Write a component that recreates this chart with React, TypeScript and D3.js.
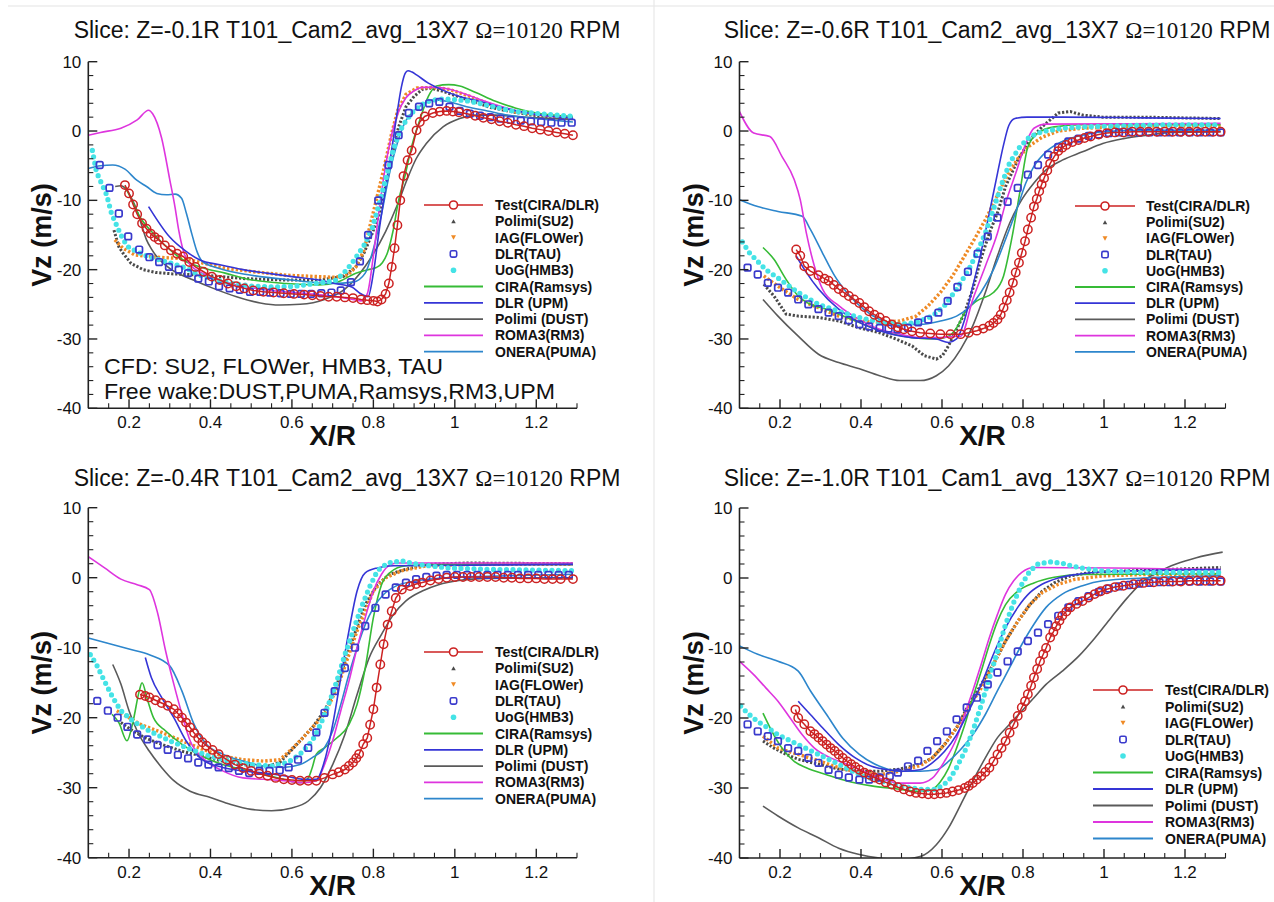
import React from 'react';
import * as d3 from 'd3';

type Pt = [number, number];

const X_TICKS = [0.2, 0.4, 0.6, 0.8, 1, 1.2];
const X_TICK_LABELS = ['0.2', '0.4', '0.6', '0.8', '1', '1.2'];
const Y_TICKS = [10, 0, -10, -20, -30, -40];
const SERIES_NAMES = ['Test(CIRA/DLR)', 'Polimi(SU2)', 'IAG(FLOWer)', 'DLR(TAU)', 'UoG(HMB3)', 'CIRA(Ramsys)', 'DLR (UPM)', 'Polimi (DUST)', 'ROMA3(RM3)', 'ONERA(PUMA)'];
const SLICES = ['Z=-0.1R T101_Cam2_avg_13X7 ', 'Z=-0.6R T101_Cam2_avg_13X7 ', 'Z=-0.4R T101_Cam2_avg_13X7 ', 'Z=-1.0R T101_Cam1_avg_13X7 '];
const NOTE_LINES = ['CFD: SU2, FLOWer, HMB3, TAU', 'Free wake:DUST,PUMA,Ramsys,RM3,UPM'];

// ---------- Panel 1 : Z=-0.1R ----------
const p1Test: Pt[] = [[0.19,-7.8],[0.2,-9],[0.21,-10.6],[0.22,-12],[0.232,-13.3],[0.243,-14.1],[0.253,-14.8],[0.263,-15.3],[0.273,-15.7],[0.288,-16.5],[0.303,-17.2],[0.318,-17.7],[0.333,-18.1],[0.348,-18.9],[0.363,-19.6],[0.383,-20.3],[0.403,-21],[0.423,-21.5],[0.443,-22],[0.463,-22.4],[0.483,-22.7],[0.505,-23],[0.53,-23.2],[0.555,-23.3],[0.58,-23.4],[0.605,-23.5],[0.63,-23.6],[0.65,-23.7],[0.67,-23.8],[0.69,-23.9],[0.71,-23.9],[0.73,-24],[0.75,-24.1],[0.77,-24.3],[0.785,-24.4],[0.8,-24.5],[0.81,-24.6],[0.82,-24.3],[0.83,-23.5],[0.838,-22],[0.845,-19.6],[0.852,-16.9],[0.859,-13.6],[0.866,-10],[0.874,-6.5],[0.884,-4.2],[0.894,-2.8],[0.906,0.1],[0.914,1.3],[0.926,2.1],[0.946,2.6],[0.963,2.8],[0.98,2.9],[0.995,2.8],[1.01,2.7],[1.03,2.5],[1.05,2.2],[1.07,1.9],[1.09,1.7],[1.11,1.4],[1.13,1.2],[1.15,0.9],[1.17,0.7],[1.19,0.4],[1.21,0.2],[1.23,0],[1.25,-0.2],[1.27,-0.4],[1.29,-0.6]];
const p1Su2: Pt[] = [[0.163,-14.3],[0.175,-16.7],[0.185,-17.6],[0.205,-19.1],[0.235,-20],[0.265,-20.4],[0.305,-20.6],[0.385,-20.8],[0.486,-21.3],[0.586,-21.5],[0.666,-21.5],[0.726,-21],[0.757,-19.6],[0.777,-17.6],[0.797,-14.8],[0.812,-12.4],[0.832,-7.5],[0.847,-3.2],[0.862,0.6],[0.88,3.5],[0.9,5],[0.92,6],[0.94,6.2],[0.967,5.8],[1.007,5],[1.047,4.2],[1.088,3.4],[1.138,2.8],[1.188,2.3],[1.29,1.8]];
const p1Iag: Pt[] = [[0.165,-15.7],[0.185,-16.9],[0.215,-17.9],[0.265,-18.2],[0.335,-18.4],[0.385,-19.1],[0.436,-19.8],[0.506,-20.3],[0.586,-20.8],[0.666,-21],[0.706,-21.1],[0.737,-20.8],[0.757,-19.6],[0.777,-17.2],[0.787,-14.8],[0.807,-10],[0.827,-5.1],[0.845,-0.3],[0.86,3],[0.88,5.3],[0.907,6.2],[0.947,6.3],[0.987,6],[1.037,5],[1.088,3.8],[1.148,2.8],[1.29,1.8]];
const p1Tau: Pt[] = [[0.128,-4.9],[0.152,-8.2],[0.175,-11.9],[0.198,-15.2],[0.225,-17.1],[0.25,-18.2],[0.274,-18.9],[0.298,-19.6],[0.322,-20],[0.345,-20.5],[0.37,-21.3],[0.396,-21.7],[0.421,-22.4],[0.447,-22.7],[0.472,-22.9],[0.497,-23.2],[0.522,-23.2],[0.546,-23.3],[0.572,-23.4],[0.597,-23.5],[0.622,-23.5],[0.647,-23.5],[0.672,-23.4],[0.697,-23.3],[0.72,-23],[0.745,-21.8],[0.767,-18.8],[0.787,-15],[0.812,-10],[0.837,-4.9],[0.862,-0.6],[0.887,2.6],[0.912,3.5],[0.937,4],[0.962,4.2],[0.987,3.5],[1.012,2.9],[1.037,2.5],[1.062,2.2],[1.087,2],[1.112,1.8],[1.137,1.6],[1.162,1.5],[1.187,1.4],[1.212,1.3],[1.237,1.2],[1.262,1.2],[1.287,1.2]];
const p1Uog: Pt[] = [[0.11,-2.8],[0.12,-5.9],[0.145,-9.2],[0.157,-11.9],[0.174,-14.2],[0.186,-15.7],[0.198,-16.7],[0.219,-17.4],[0.25,-18.2],[0.3,-19],[0.341,-19.8],[0.374,-20.8],[0.415,-21.5],[0.456,-22],[0.505,-22.4],[0.555,-22.5],[0.606,-22.4],[0.656,-22],[0.706,-21.6],[0.727,-20.5],[0.747,-19.1],[0.777,-16.5],[0.797,-14],[0.812,-11],[0.83,-7],[0.849,-2.7],[0.865,0],[0.878,1.3],[0.9,3],[0.93,4.2],[0.96,4.6],[0.99,4.6],[1.037,4.3],[1.088,3.6],[1.148,2.8],[1.29,2.1]];
const p1Ramsys: Pt[] = [[0.19,-8],[0.203,-9.5],[0.227,-12.4],[0.26,-14.8],[0.292,-16.7],[0.333,-18.6],[0.385,-19.8],[0.436,-20.5],[0.486,-21.3],[0.586,-22],[0.666,-22.2],[0.716,-21.7],[0.757,-20.5],[0.787,-20],[0.807,-19.7],[0.822,-19],[0.835,-17.5],[0.848,-14.5],[0.862,-10],[0.877,-6.6],[0.895,-2],[0.914,1.6],[0.935,5],[0.955,6.5],[0.985,6.7],[1.012,6.5],[1.05,5.6],[1.1,4.3],[1.15,3.3],[1.2,2.6],[1.29,2.1]];
const p1Upm: Pt[] = [[0.248,-10.9],[0.3,-15.3],[0.341,-17.4],[0.374,-18.6],[0.423,-19.3],[0.48,-20],[0.538,-20.5],[0.6,-21],[0.666,-21.5],[0.706,-22],[0.747,-22.5],[0.767,-23.4],[0.787,-23.9],[0.8,-20.5],[0.815,-14],[0.833,-7.1],[0.845,-2.7],[0.857,2.1],[0.869,6.4],[0.878,8.3],[0.885,8.7],[0.895,8.5],[0.906,8.1],[0.935,6.9],[0.97,5.9],[1.01,5],[1.06,4.3],[1.12,3.3],[1.18,2.6],[1.24,2.1],[1.29,1.9]];
const p1Dust: Pt[] = [[0.166,-8],[0.18,-7.9],[0.194,-8.5],[0.207,-9.8],[0.219,-11.4],[0.231,-13.6],[0.243,-15.7],[0.256,-17.1],[0.268,-18.1],[0.3,-19.8],[0.358,-21.5],[0.407,-22.7],[0.464,-23.9],[0.522,-24.8],[0.57,-25.1],[0.62,-25],[0.68,-24.3],[0.73,-22.8],[0.78,-19.5],[0.83,-14.5],[0.86,-10.5],[0.882,-7.1],[0.905,-4],[0.93,-1.8],[0.971,0.6],[1.012,1.8],[1.053,2.3],[1.1,2.3],[1.15,2.1],[1.2,1.9],[1.29,1.7]];
const p1Rm3: Pt[] = [[0.1,-0.6],[0.13,-0.2],[0.18,0.4],[0.22,1.6],[0.248,3],[0.258,2.5],[0.28,-1],[0.3,-7],[0.313,-11],[0.322,-14.3],[0.333,-17.2],[0.35,-19.3],[0.38,-20.5],[0.45,-22],[0.55,-23],[0.65,-23.5],[0.72,-24],[0.75,-24.3],[0.77,-24.5],[0.785,-23.5],[0.8,-18],[0.815,-11],[0.83,-5],[0.845,-0.5],[0.86,2.5],[0.88,4.8],[0.9,5.8],[0.92,6.3],[0.95,6.3],[0.99,6],[1.04,5],[1.1,3.8],[1.16,2.8],[1.22,2.2],[1.29,1.9]];
const p1Puma: Pt[] = [[0.1,-5.4],[0.13,-5],[0.16,-4.9],[0.19,-5.5],[0.219,-7.1],[0.243,-8],[0.268,-9],[0.292,-9.2],[0.313,-9.1],[0.329,-9.7],[0.341,-11.9],[0.354,-14.8],[0.367,-17.4],[0.38,-18.8],[0.42,-19.8],[0.5,-20.8],[0.6,-21.5],[0.7,-22],[0.75,-21.8],[0.78,-20.5],[0.8,-17],[0.82,-12],[0.84,-6],[0.86,-1.5],[0.88,1.5],[0.894,2.6],[0.92,3.8],[0.947,4.5],[0.98,4.3],[1.029,3.5],[1.08,2.9],[1.13,2.3],[1.2,1.8],[1.29,1.3]];

// ---------- Panel 2 : Z=-0.6R ----------
const p2Test: Pt[] = [[0.24,-17.1],[0.25,-18],[0.26,-19.5],[0.275,-20.2],[0.295,-20.8],[0.31,-21.3],[0.32,-21.6],[0.333,-22.2],[0.345,-22.8],[0.358,-23.3],[0.37,-23.8],[0.383,-24.3],[0.396,-24.8],[0.408,-25.4],[0.42,-26],[0.433,-26.5],[0.446,-26.9],[0.461,-27.4],[0.476,-27.9],[0.491,-28.3],[0.506,-28.6],[0.526,-28.9],[0.546,-29.1],[0.571,-29.2],[0.596,-29.3],[0.621,-29.3],[0.646,-29.3],[0.666,-29.1],[0.686,-28.8],[0.702,-28.5],[0.717,-28.1],[0.727,-27.7],[0.737,-27.2],[0.745,-26.5],[0.752,-25.5],[0.76,-24.4],[0.767,-23.3],[0.775,-21.9],[0.782,-20.4],[0.79,-19],[0.797,-17.6],[0.805,-15.9],[0.812,-14.2],[0.82,-12.5],[0.827,-10.9],[0.834,-9.8],[0.84,-8.7],[0.846,-7.7],[0.852,-6.8],[0.86,-5.7],[0.867,-4.7],[0.877,-3.7],[0.887,-2.9],[0.897,-2.4],[0.907,-2],[0.922,-1.6],[0.937,-1.3],[0.952,-1],[0.967,-0.8],[0.987,-0.5],[1.007,-0.3],[1.027,-0.2],[1.048,-0.2],[1.07,-0.1],[1.09,-0.1],[1.11,-0.1],[1.13,-0.1],[1.15,-0.1],[1.17,-0.1],[1.19,-0.1],[1.21,-0.1],[1.23,-0.1],[1.25,-0.1],[1.27,-0.1],[1.288,-0.1]];
const p2Su2: Pt[] = [[0.16,-22.1],[0.185,-23.8],[0.215,-26.4],[0.245,-26.7],[0.295,-26.9],[0.345,-27.4],[0.396,-28.4],[0.446,-29.1],[0.486,-30],[0.526,-31],[0.556,-32.4],[0.586,-32.9],[0.601,-32.4],[0.616,-31],[0.636,-28.6],[0.656,-26.2],[0.676,-22.8],[0.696,-18.5],[0.717,-14.7],[0.737,-11.8],[0.757,-8],[0.787,-4.2],[0.817,-1.3],[0.847,0.6],[0.887,2.6],[0.917,2.8],[0.947,2.3],[0.997,2],[1.098,2],[1.288,1.8]];
const p2Iag: Pt[] = [[0.16,-20.9],[0.195,-22.4],[0.245,-24.3],[0.295,-25.5],[0.345,-26.7],[0.396,-27.4],[0.446,-27.6],[0.496,-27.4],[0.536,-26.7],[0.566,-25.2],[0.596,-23.3],[0.626,-20.9],[0.656,-18],[0.686,-15],[0.707,-12.8],[0.727,-10.5],[0.747,-8],[0.767,-5.8],[0.787,-4],[0.812,-2.3],[0.847,-0.9],[0.887,0],[0.947,0.4],[1.098,0.7],[1.288,0.7]];
const p2Tau: Pt[] = [[0.12,-19.7],[0.145,-20.7],[0.17,-21.9],[0.195,-22.6],[0.22,-23.3],[0.245,-24.3],[0.27,-25],[0.295,-25.7],[0.32,-26.2],[0.345,-26.7],[0.37,-27.3],[0.396,-27.9],[0.42,-28.2],[0.446,-28.4],[0.468,-28.5],[0.49,-28.6],[0.516,-28.4],[0.541,-27.6],[0.566,-27.2],[0.591,-26.2],[0.614,-24.5],[0.638,-22.5],[0.664,-20.3],[0.688,-17.7],[0.713,-15.2],[0.737,-12.5],[0.762,-10.2],[0.787,-8.2],[0.812,-6.3],[0.837,-4.9],[0.862,-3.4],[0.887,-2.3],[0.912,-1.5],[0.937,-1.1],[0.962,-0.7],[0.987,-0.5],[1.012,-0.3],[1.037,-0.2],[1.062,-0.2],[1.087,-0.2],[1.112,-0.2],[1.137,-0.2],[1.162,-0.2],[1.187,-0.2],[1.212,-0.2],[1.237,-0.2],[1.262,-0.2],[1.288,-0.2]];
const p2Uog: Pt[] = [[0.107,-16],[0.125,-17.6],[0.145,-18.8],[0.165,-20],[0.195,-21.2],[0.245,-23.3],[0.295,-25],[0.345,-26],[0.396,-26.9],[0.446,-27.6],[0.496,-27.9],[0.536,-27.6],[0.576,-26.7],[0.606,-25.2],[0.636,-22.8],[0.666,-20],[0.686,-17.6],[0.707,-14.7],[0.727,-11.3],[0.747,-7.7],[0.767,-4.6],[0.792,-2.3],[0.817,-0.8],[0.847,-0.1],[0.897,0.4],[0.947,0.6],[1.148,0.9],[1.288,0.9]];
const p2Ramsys: Pt[] = [[0.158,-16.8],[0.185,-18.5],[0.215,-21.4],[0.245,-23.8],[0.275,-25],[0.315,-25.7],[0.365,-26.9],[0.416,-28.1],[0.466,-29.1],[0.526,-29.8],[0.586,-30],[0.616,-29.6],[0.636,-28.4],[0.656,-26.2],[0.686,-24.5],[0.727,-23.3],[0.752,-20.9],[0.772,-15.6],[0.792,-8.9],[0.812,-2.3],[0.837,-0.3],[0.877,0.6],[0.947,0.9],[1.288,0.9]];
const p2Upm: Pt[] = [[0.24,-18],[0.265,-20.4],[0.295,-22.8],[0.345,-25.7],[0.396,-27.6],[0.446,-28.8],[0.526,-29.8],[0.586,-30],[0.616,-30.5],[0.636,-30],[0.656,-27.2],[0.676,-22.4],[0.696,-17.6],[0.717,-11.8],[0.737,-6.1],[0.752,-2],[0.765,0.8],[0.78,1.8],[0.81,2],[0.9,2],[1.1,1.9],[1.288,1.8]];
const p2Dust: Pt[] = [[0.158,-24.3],[0.195,-26.7],[0.245,-29.6],[0.295,-32.2],[0.345,-33.4],[0.396,-34.3],[0.446,-35.3],[0.496,-36],[0.546,-36],[0.586,-35.3],[0.616,-33.9],[0.646,-31.5],[0.676,-28.1],[0.707,-23.3],[0.737,-18],[0.767,-13.3],[0.797,-9.9],[0.827,-7.5],[0.857,-5.6],[0.897,-4.2],[0.947,-3],[0.997,-1.8],[1.048,-1.1],[1.108,-0.6],[1.168,-0.2],[1.288,-0.1]];
const p2Rm3: Pt[] = [[0.1,2.8],[0.135,-0.3],[0.175,-0.8],[0.205,-3.7],[0.235,-7],[0.25,-9.9],[0.265,-14.7],[0.285,-19.5],[0.305,-22.8],[0.345,-25.2],[0.396,-27.2],[0.446,-28.6],[0.496,-29.3],[0.546,-29.8],[0.596,-29.8],[0.636,-29.6],[0.646,-29.6],[0.676,-24.3],[0.707,-19.5],[0.737,-14.7],[0.757,-10.4],[0.782,-6.1],[0.807,-1.8],[0.827,0.4],[0.857,1],[1.288,1.1]];
const p2Puma: Pt[] = [[0.1,-9.9],[0.145,-10.9],[0.195,-11.6],[0.255,-12.3],[0.275,-14.2],[0.305,-17.6],[0.335,-20.9],[0.365,-23.3],[0.406,-25.7],[0.446,-27.2],[0.496,-27.9],[0.546,-27.9],[0.596,-27.4],[0.636,-26.7],[0.666,-25.5],[0.696,-23.3],[0.727,-20],[0.757,-15.6],[0.787,-10.9],[0.807,-7.5],[0.827,-5.1],[0.857,-3],[0.897,-1.5],[0.947,-0.6],[0.997,-0.1],[1.098,0.1],[1.288,0.1]];

// ---------- Panel 3 : Z=-0.4R ----------
const p3Test: Pt[] = [[0.227,-16.7],[0.24,-16.9],[0.25,-17.1],[0.265,-17.5],[0.28,-17.9],[0.295,-18.3],[0.31,-18.8],[0.32,-19.4],[0.33,-20],[0.34,-20.7],[0.35,-21.4],[0.36,-22.2],[0.37,-22.9],[0.38,-23.5],[0.39,-24],[0.405,-24.6],[0.42,-25.2],[0.44,-26],[0.46,-26.7],[0.48,-27.2],[0.5,-27.6],[0.52,-28],[0.54,-28.3],[0.56,-28.6],[0.58,-28.8],[0.6,-28.9],[0.62,-29],[0.64,-29],[0.66,-29],[0.68,-28.6],[0.7,-28.1],[0.715,-27.8],[0.73,-27.4],[0.74,-26.9],[0.75,-26.4],[0.758,-25.8],[0.765,-25.2],[0.775,-23.8],[0.785,-22.9],[0.792,-21],[0.8,-18.8],[0.808,-15.7],[0.817,-12.4],[0.825,-9.5],[0.835,-6.7],[0.845,-4.8],[0.855,-2.9],[0.87,-1.7],[0.89,-1.2],[0.905,-0.9],[0.92,-0.7],[0.94,-0.4],[0.96,-0.2],[0.98,0],[1.0,0.1],[1.02,0.1],[1.04,0.1],[1.06,0.1],[1.08,0.1],[1.1,0.1],[1.12,0],[1.14,0],[1.16,-0.1],[1.18,-0.1],[1.2,-0.1],[1.22,-0.2],[1.24,-0.2],[1.26,-0.2],[1.29,-0.2]];
const p3Su2: Pt[] = [[0.18,-20.7],[0.21,-21.9],[0.24,-22.9],[0.28,-23.8],[0.33,-24.8],[0.38,-25.5],[0.43,-26.2],[0.48,-26.7],[0.53,-27.1],[0.57,-26.4],[0.59,-25.2],[0.62,-23.3],[0.65,-21.4],[0.68,-19],[0.705,-16.2],[0.725,-12.9],[0.745,-9.5],[0.765,-6.2],[0.785,-3.3],[0.81,-1],[0.84,0.5],[0.88,1.2],[0.93,1.9],[1.03,2.1],[1.29,2]];
const p3Iag: Pt[] = [[0.17,-19],[0.2,-20],[0.23,-21],[0.28,-22.1],[0.33,-23.3],[0.38,-24.5],[0.43,-25.5],[0.48,-26],[0.53,-26.2],[0.57,-26],[0.59,-25],[0.62,-23.3],[0.65,-21.4],[0.68,-19.5],[0.7,-17.1],[0.72,-14.3],[0.74,-11],[0.76,-7.6],[0.78,-4.8],[0.8,-1.9],[0.83,0],[0.87,1],[0.93,1.7],[1.03,1.9],[1.29,1.9]];
const p3Tau: Pt[] = [[0.122,-17.6],[0.148,-19],[0.172,-20],[0.196,-21.3],[0.22,-22.4],[0.245,-23.1],[0.27,-23.9],[0.295,-24.6],[0.32,-25.3],[0.345,-25.8],[0.37,-26.4],[0.395,-26.7],[0.42,-27.1],[0.445,-27.2],[0.47,-27.6],[0.495,-27.9],[0.52,-27.6],[0.545,-27.6],[0.57,-27.5],[0.592,-27.1],[0.615,-26],[0.64,-24.3],[0.66,-22.1],[0.68,-19.3],[0.705,-16.2],[0.73,-12.9],[0.755,-10],[0.78,-6.9],[0.805,-4.3],[0.83,-2.4],[0.855,-1.4],[0.88,-0.7],[0.905,-0.2],[0.93,0.1],[0.955,0.3],[0.98,0.4],[1.005,0.4],[1.03,0.4],[1.055,0.4],[1.08,0.4],[1.105,0.4],[1.13,0.4],[1.155,0.4],[1.18,0.4],[1.205,0.4],[1.23,0.4],[1.255,0.4],[1.28,0.4]];
const p3Uog: Pt[] = [[0.105,-11],[0.12,-12.4],[0.14,-14.8],[0.16,-17.1],[0.18,-19],[0.21,-20.5],[0.25,-21.9],[0.3,-23.3],[0.35,-24.5],[0.4,-25.5],[0.45,-26.2],[0.5,-26.7],[0.55,-26.9],[0.59,-26.4],[0.62,-25.2],[0.65,-23.3],[0.67,-21],[0.69,-18.1],[0.71,-14.8],[0.73,-11],[0.75,-7.6],[0.77,-4.3],[0.79,-1.4],[0.81,1],[0.835,2.1],[0.87,2.4],[0.91,1.9],[0.98,1.4],[1.08,1.2],[1.29,1]];
const p3Ramsys: Pt[] = [[0.158,-19.5],[0.175,-20.7],[0.195,-23.3],[0.21,-20.5],[0.225,-16.2],[0.232,-15],[0.245,-17.4],[0.26,-20],[0.29,-21.9],[0.33,-23.8],[0.38,-25.5],[0.43,-26.7],[0.48,-27.4],[0.53,-28.1],[0.58,-28.8],[0.62,-29.3],[0.64,-28.6],[0.65,-27.1],[0.66,-25.2],[0.68,-24.3],[0.71,-22.9],[0.74,-21],[0.76,-18.1],[0.78,-12.9],[0.8,-5.7],[0.82,-1],[0.84,0.7],[0.88,1.7],[0.98,1.9],[1.29,1.9]];
const p3Upm: Pt[] = [[0.24,-11.4],[0.255,-14.3],[0.28,-17.1],[0.31,-20],[0.34,-23.3],[0.38,-26],[0.43,-27.1],[0.48,-27.6],[0.53,-27.9],[0.58,-28.3],[0.63,-28.8],[0.66,-28.8],[0.68,-26.2],[0.7,-21],[0.72,-14.3],[0.74,-7.6],[0.76,-1.9],[0.78,0.7],[0.81,1.4],[0.85,1.7],[1.29,1.9]];
const p3Dust: Pt[] = [[0.16,-12.4],[0.18,-15.2],[0.2,-19],[0.22,-21.9],[0.25,-24.8],[0.28,-27.1],[0.31,-29],[0.35,-30.5],[0.4,-31.4],[0.45,-32.4],[0.5,-33.1],[0.55,-33.3],[0.6,-32.9],[0.64,-31.9],[0.67,-30],[0.7,-26.7],[0.73,-22.4],[0.76,-16.7],[0.79,-11.4],[0.82,-8.1],[0.85,-5.2],[0.88,-3.3],[0.92,-1.9],[0.96,-1],[1.01,-0.4],[1.08,-0.1],[1.29,0]];
const p3Rm3: Pt[] = [[0.1,3],[0.14,1.4],[0.18,-0.2],[0.22,-1],[0.25,-1.7],[0.27,-5],[0.29,-10.5],[0.31,-15.2],[0.33,-19.5],[0.35,-23.3],[0.38,-25.7],[0.43,-27.6],[0.48,-28.6],[0.53,-28.8],[0.58,-29],[0.63,-29.3],[0.66,-29],[0.68,-26.7],[0.7,-23.3],[0.72,-19],[0.74,-14.8],[0.76,-10],[0.78,-5.7],[0.8,-1.9],[0.82,0.5],[0.84,1.8],[0.86,2.1],[1.29,2.1]];
const p3Puma: Pt[] = [[0.1,-8.6],[0.15,-9.4],[0.2,-10.2],[0.25,-11],[0.3,-12.6],[0.33,-16.2],[0.36,-21],[0.39,-23.8],[0.43,-25.2],[0.48,-26.2],[0.53,-26.9],[0.58,-27.1],[0.62,-26.7],[0.65,-25.7],[0.68,-24.3],[0.7,-21.9],[0.72,-18.1],[0.74,-13.8],[0.76,-10],[0.78,-6.7],[0.8,-4.3],[0.825,-2.4],[0.855,-1.2],[0.9,-0.5],[0.98,0],[1.08,0.2],[1.29,0.5]];

// ---------- Panel 4 : Z=-1.0R ----------
const p4Test: Pt[] = [[0.238,-18.8],[0.245,-20],[0.26,-20.9],[0.275,-21.9],[0.285,-22.3],[0.295,-22.8],[0.305,-23.3],[0.315,-23.8],[0.325,-24.3],[0.335,-24.7],[0.345,-25.2],[0.355,-25.7],[0.366,-26.2],[0.376,-26.6],[0.386,-27],[0.396,-27.4],[0.408,-27.8],[0.421,-28.1],[0.433,-28.5],[0.446,-28.8],[0.461,-29.2],[0.476,-29.5],[0.491,-29.9],[0.506,-30.2],[0.521,-30.5],[0.536,-30.7],[0.551,-30.8],[0.566,-30.9],[0.581,-30.9],[0.596,-30.8],[0.611,-30.7],[0.626,-30.5],[0.641,-30.3],[0.656,-30],[0.666,-29.7],[0.676,-29.3],[0.686,-28.8],[0.697,-28.3],[0.707,-27.7],[0.717,-27.1],[0.727,-26.2],[0.737,-25.2],[0.747,-24.3],[0.757,-23.3],[0.767,-22.1],[0.777,-20.9],[0.787,-19.7],[0.797,-18.5],[0.805,-17.6],[0.812,-16.6],[0.82,-15.4],[0.827,-14.2],[0.835,-13],[0.842,-11.9],[0.85,-10.9],[0.857,-10],[0.867,-8.5],[0.875,-7.7],[0.882,-6.9],[0.89,-6.1],[0.897,-5.4],[0.907,-4.8],[0.917,-4.2],[0.932,-3.7],[0.947,-3.3],[0.962,-2.8],[0.977,-2.3],[0.992,-1.9],[1.007,-1.6],[1.027,-1.3],[1.048,-1.1],[1.073,-0.9],[1.098,-0.7],[1.123,-0.6],[1.148,-0.5],[1.17,-0.5],[1.19,-0.5],[1.21,-0.4],[1.23,-0.4],[1.25,-0.4],[1.27,-0.4],[1.288,-0.4]];
const p4Su2: Pt[] = [[0.158,-23.3],[0.185,-24.3],[0.215,-25.2],[0.245,-25.9],[0.295,-26.6],[0.345,-27.3],[0.396,-27.6],[0.446,-27.6],[0.496,-27.3],[0.546,-26.6],[0.576,-25.7],[0.606,-23.8],[0.636,-21.4],[0.666,-18.1],[0.697,-15.2],[0.727,-12.3],[0.757,-9],[0.787,-6.2],[0.817,-3.8],[0.847,-1.9],[0.877,-0.7],[0.917,0.3],[0.967,0.8],[1.048,1],[1.148,1.2],[1.288,1.5]];
const p4Iag: Pt[] = [[0.158,-22.6],[0.195,-24.3],[0.245,-25.2],[0.295,-26.1],[0.345,-27.1],[0.396,-27.8],[0.446,-28.1],[0.496,-27.6],[0.546,-26.8],[0.576,-25.7],[0.606,-23.8],[0.636,-21.4],[0.666,-18.5],[0.697,-15.7],[0.727,-12.3],[0.757,-9],[0.787,-6.2],[0.817,-3.8],[0.847,-2.1],[0.887,-0.9],[0.927,-0.2],[0.997,0.3],[1.098,0.5],[1.288,0.5]];
const p4Tau: Pt[] = [[0.12,-20.9],[0.145,-21.9],[0.17,-22.6],[0.195,-23.3],[0.22,-24.3],[0.245,-24.7],[0.27,-25.7],[0.295,-26.4],[0.32,-27.4],[0.345,-28.1],[0.37,-28.5],[0.396,-28.8],[0.42,-28.8],[0.446,-28.5],[0.471,-28.3],[0.491,-27.8],[0.516,-26.9],[0.541,-26.1],[0.564,-24.7],[0.588,-23.3],[0.612,-21.9],[0.636,-20.2],[0.661,-18.5],[0.686,-17.1],[0.713,-15.2],[0.737,-13.5],[0.762,-11.9],[0.787,-10.5],[0.812,-9],[0.837,-7.8],[0.862,-6.6],[0.887,-5.4],[0.912,-4.2],[0.937,-3.3],[0.962,-2.6],[0.987,-2],[1.012,-1.5],[1.037,-1.2],[1.062,-1],[1.087,-0.8],[1.112,-0.7],[1.137,-0.6],[1.162,-0.6],[1.187,-0.5],[1.212,-0.5],[1.237,-0.5],[1.262,-0.5],[1.288,-0.5]];
const p4Uog: Pt[] = [[0.103,-18.3],[0.12,-19.3],[0.145,-20.5],[0.17,-21.4],[0.195,-22.4],[0.245,-23.8],[0.295,-25.2],[0.345,-26.6],[0.396,-28.1],[0.446,-29],[0.496,-29.7],[0.546,-30.2],[0.586,-30.2],[0.616,-29],[0.636,-27.1],[0.656,-24.8],[0.676,-21.9],[0.697,-18.1],[0.717,-14.3],[0.737,-10.5],[0.757,-6.6],[0.777,-3.5],[0.797,-0.9],[0.817,1],[0.837,2],[0.867,2.3],[0.897,2.1],[0.937,1.5],[0.997,1],[1.098,0.8],[1.288,0.8]];
const p4Ramsys: Pt[] = [[0.158,-19.3],[0.18,-21.9],[0.205,-24.3],[0.235,-26.2],[0.265,-27.1],[0.315,-28.1],[0.365,-29],[0.426,-29.7],[0.486,-30.1],[0.546,-30.5],[0.576,-30.2],[0.596,-29.1],[0.616,-27.2],[0.636,-24.3],[0.656,-21],[0.676,-17.1],[0.697,-13.3],[0.717,-9.5],[0.737,-6.2],[0.757,-3.8],[0.787,-1.9],[0.827,-0.7],[0.877,0.1],[0.947,0.5],[1.288,0.6]];
const p4Upm: Pt[] = [[0.245,-17.6],[0.275,-19.5],[0.305,-21.4],[0.345,-23.8],[0.386,-25.7],[0.426,-26.9],[0.466,-27.4],[0.506,-27.6],[0.546,-27.4],[0.576,-26.4],[0.606,-24.8],[0.636,-22.4],[0.666,-19],[0.697,-15.2],[0.727,-10.9],[0.757,-7.1],[0.787,-4.2],[0.817,-2.1],[0.847,-0.9],[0.887,0],[0.947,0.6],[1.048,1],[1.288,1.2]];
const p4Dust: Pt[] = [[0.158,-32.6],[0.195,-34],[0.245,-35.7],[0.295,-37.1],[0.345,-38.6],[0.396,-39.5],[0.446,-40],[0.496,-40.2],[0.546,-39.8],[0.586,-38.1],[0.616,-35.7],[0.646,-32.4],[0.676,-29],[0.707,-25.7],[0.737,-22.8],[0.767,-20.9],[0.797,-19],[0.827,-17.1],[0.857,-15.2],[0.897,-13.3],[0.937,-11.2],[0.977,-8.6],[1.017,-5.7],[1.058,-2.8],[1.098,-0.4],[1.138,1],[1.178,2],[1.228,2.9],[1.293,3.7]];
const p4Rm3: Pt[] = [[0.1,-11.9],[0.135,-13.8],[0.165,-15.7],[0.195,-17.6],[0.225,-20],[0.255,-22.4],[0.285,-24.3],[0.325,-25.7],[0.365,-26.6],[0.406,-27.6],[0.446,-28.6],[0.496,-29.3],[0.546,-29.3],[0.576,-28.6],[0.606,-26.2],[0.636,-22.9],[0.656,-19.5],[0.676,-16.1],[0.697,-12.3],[0.717,-8.5],[0.737,-5.2],[0.757,-2.3],[0.777,-0.4],[0.797,0.8],[0.827,1.5],[1.288,1.2]];
const p4Puma: Pt[] = [[0.1,-9.7],[0.145,-10.9],[0.195,-11.9],[0.245,-13.3],[0.275,-16.1],[0.315,-19.5],[0.355,-22.9],[0.396,-25.2],[0.446,-26.9],[0.496,-27.6],[0.546,-27.6],[0.586,-27.4],[0.616,-26.2],[0.646,-24.5],[0.676,-22.4],[0.707,-19.5],[0.737,-16.1],[0.767,-12.8],[0.797,-9.5],[0.827,-6.6],[0.857,-4.2],[0.897,-2.3],[0.947,-1.1],[0.997,-0.4],[1.098,0],[1.288,0.3]];

const COLORS = {
  test: '#cc2222', su2: '#4a4a4a', iag: '#ef8a25', tau: '#3a3acc', uog: '#45e3e6',
  ramsys: '#36bb36', upm: '#3535d6', dust: '#5a5a5a', rm3: '#de35de', puma: '#2d86cc',
};

interface PanelCfg {
  slice: string; x0: number; x1: number; yTop: number; yBot: number;
  titleX: number; titleY: number; legX0: number; legX1: number; legTextX: number; legY0: number; legDy: number;
  note: boolean; id: string;
  test: Pt[]; su2: Pt[]; iag: Pt[]; tau: Pt[]; uog: Pt[]; ramsys: Pt[]; upm: Pt[]; dust: Pt[]; rm3: Pt[]; puma: Pt[];
}

const PANELS: PanelCfg[] = [
  { slice: SLICES[0], x0: 88.3, x1: 577, yTop: 61.7, yBot: 408.3, titleX: 347, titleY: 38, legX0: 424, legX1: 483, legTextX: 495, legY0: 205, legDy: 16.3, note: true, id: 'p1',
    test: p1Test, su2: p1Su2, iag: p1Iag, tau: p1Tau, uog: p1Uog, ramsys: p1Ramsys, upm: p1Upm, dust: p1Dust, rm3: p1Rm3, puma: p1Puma },
  { slice: SLICES[1], x0: 739.5, x1: 1225.5, yTop: 61.7, yBot: 408.3, titleX: 997, titleY: 38, legX0: 1075, legX1: 1135, legTextX: 1146, legY0: 206, legDy: 16.2, note: false, id: 'p2',
    test: p2Test, su2: p2Su2, iag: p2Iag, tau: p2Tau, uog: p2Uog, ramsys: p2Ramsys, upm: p2Upm, dust: p2Dust, rm3: p2Rm3, puma: p2Puma },
  { slice: SLICES[2], x0: 88.3, x1: 577, yTop: 507.7, yBot: 857.7, titleX: 347, titleY: 486, legX0: 424, legX1: 483, legTextX: 495, legY0: 652, legDy: 16.3, note: false, id: 'p3',
    test: p3Test, su2: p3Su2, iag: p3Iag, tau: p3Tau, uog: p3Uog, ramsys: p3Ramsys, upm: p3Upm, dust: p3Dust, rm3: p3Rm3, puma: p3Puma },
  { slice: SLICES[3], x0: 739.5, x1: 1225.5, yTop: 508, yBot: 858, titleX: 997, titleY: 486, legX0: 1093, legX1: 1153, legTextX: 1165, legY0: 690, legDy: 16.5, note: false, id: 'p4',
    test: p4Test, su2: p4Su2, iag: p4Iag, tau: p4Tau, uog: p4Uog, ramsys: p4Ramsys, upm: p4Upm, dust: p4Dust, rm3: p4Rm3, puma: p4Puma },
];

const SANS = '"Liberation Sans", Arial, Helvetica, sans-serif';
const SERIF = '"Liberation Serif", "Times New Roman", serif';
const NOTE_WIDTHS = [339, 451];

function triPath(cx: number, cy: number, s: number, down: boolean) {
  const h = s * 0.9;
  return down
    ? `M${cx - s / 2},${cy - h / 2}L${cx + s / 2},${cy - h / 2}L${cx},${cy + h / 2}Z`
    : `M${cx - s / 2},${cy + h / 2}L${cx + s / 2},${cy + h / 2}L${cx},${cy - h / 2}Z`;
}

function Panel({ c }: { c: PanelCfg }) {
  const x = d3.scaleLinear().domain([0.1, 1.3]).range([c.x0, c.x1]);
  const y = d3.scaleLinear().domain([-40, 10]).range([c.yBot, c.yTop]);
  const line = d3.line<Pt>().x((d) => x(d[0])).y((d) => y(d[1])).curve(d3.curveMonotoneX);
  const lineLin = d3.line<Pt>().x((d) => x(d[0])).y((d) => y(d[1]));
  const yMinor = d3.range(-38, 10, 2).filter((v) => v % 10 !== 0);
  const xMinor = d3.range(3, 27).map((i) => i * 0.05).filter((v) => Math.abs(Math.round(v * 5) - v * 5) > 1e-6);
  const clipId = `clip-${c.id}`;
  const axisColor = '#222';
  const lineSeries: [keyof PanelCfg, string][] = [['dust', COLORS.dust], ['ramsys', COLORS.ramsys], ['puma', COLORS.puma], ['rm3', COLORS.rm3], ['upm', COLORS.upm]];

  return (
    <g>
      <defs>
        <clipPath id={clipId}>
          <rect x={c.x0} y={c.yTop - 2} width={c.x1 - c.x0 + 4} height={c.yBot - c.yTop + 2} />
        </clipPath>
      </defs>
      <text x={c.titleX} y={c.titleY} textAnchor="middle" fontFamily={SANS} fontSize={23} fill="#111">
        <tspan>{'Slice: ' + c.slice}</tspan>
        <tspan fontFamily={SERIF}>{'\u03A9=10120'}</tspan>
        <tspan>{' RPM'}</tspan>
      </text>

      <g clipPath={`url(#${clipId})`}>
        <path d={lineLin(c.su2) || ''} fill="none" stroke={COLORS.su2} strokeWidth={3} strokeDasharray="2.2 1.8" />
        <path d={lineLin(c.iag) || ''} fill="none" stroke={COLORS.iag} strokeWidth={3.4} strokeDasharray="2.4 2" />
        {lineSeries.map(([k, col]) => (
          <path key={k as string} d={line(c[k] as Pt[]) || ''} fill="none" stroke={col} strokeWidth={1.6} />
        ))}
        <path d={lineLin(c.uog) || ''} fill="none" stroke={COLORS.uog} strokeWidth={5.2} strokeLinecap="round" strokeDasharray="0 6.5" />
        {c.tau.map((d, i) => (
          <rect key={'t' + i} x={x(d[0]) - 3.3} y={y(d[1]) - 3.3} width={6.6} height={6.6} rx={1.7} fill="none" stroke={COLORS.tau} strokeWidth={1.7} />
        ))}
        <path d={lineLin(c.test) || ''} fill="none" stroke={COLORS.test} strokeWidth={1.5} />
        {c.test.map((d, i) => (
          <circle key={'c' + i} cx={x(d[0])} cy={y(d[1])} r={4.2} fill="none" stroke={COLORS.test} strokeWidth={1.5} />
        ))}
      </g>

      <line x1={c.x0} x2={c.x0} y1={c.yTop} y2={c.yBot} stroke={axisColor} strokeWidth={1.6} />
      <line x1={c.x0} x2={c.x1} y1={c.yBot} y2={c.yBot} stroke={axisColor} strokeWidth={1.6} />
      {Y_TICKS.map((v) => (
        <g key={'yt' + v}>
          <line x1={c.x0} x2={c.x0 + 9} y1={y(v)} y2={y(v)} stroke={axisColor} strokeWidth={1.4} />
          <text x={c.x0 - 7} y={y(v)} dy="0.36em" textAnchor="end" fontFamily={SANS} fontSize={17} fill="#111">{v}</text>
        </g>
      ))}
      {yMinor.map((v) => (
        <line key={'ym' + v} x1={c.x0} x2={c.x0 + 5} y1={y(v)} y2={y(v)} stroke={axisColor} strokeWidth={1.1} />
      ))}
      {X_TICKS.map((v, i) => (
        <g key={'xt' + v}>
          <line x1={x(v)} x2={x(v)} y1={c.yBot} y2={c.yBot - 9} stroke={axisColor} strokeWidth={1.4} />
          <text x={x(v)} y={c.yBot + 20} textAnchor="middle" fontFamily={SANS} fontSize={17} fill="#111">{X_TICK_LABELS[i]}</text>
        </g>
      ))}
      {xMinor.map((v) => (
        <line key={'xm' + v} x1={x(v)} x2={x(v)} y1={c.yBot} y2={c.yBot - 5} stroke={axisColor} strokeWidth={1.1} />
      ))}
      <text x={(c.x0 + c.x1) / 2} y={c.yBot + 37} textAnchor="middle" fontFamily={SANS} fontWeight="bold" fontSize={28} fill="#111">X/R</text>
      <text transform={`translate(${c.x0 - 37},${(c.yTop + c.yBot) / 2}) rotate(-90)`} textAnchor="middle" fontFamily={SANS} fontWeight="bold" fontSize={27} fill="#111">Vz (m/s)</text>

      {SERIES_NAMES.map((name, i) => {
        const ly = c.legY0 + i * c.legDy;
        const mx = (c.legX0 + c.legX1) / 2;
        let mark: React.ReactNode = null;
        if (i === 0) mark = (<g><line x1={c.legX0} x2={c.legX1} y1={ly} y2={ly} stroke={COLORS.test} strokeWidth={1.5} /><circle cx={mx} cy={ly} r={4} fill="#fff" stroke={COLORS.test} strokeWidth={1.6} /></g>);
        else if (i === 1) mark = <path d={triPath(mx, ly, 4.5, false)} fill={COLORS.su2} />;
        else if (i === 2) mark = <path d={triPath(mx, ly, 5, true)} fill={COLORS.iag} />;
        else if (i === 3) mark = <rect x={mx - 3.2} y={ly - 3.2} width={6.4} height={6.4} rx={1.6} fill="none" stroke={COLORS.tau} strokeWidth={1.6} />;
        else if (i === 4) mark = <circle cx={mx} cy={ly} r={2.8} fill={COLORS.uog} />;
        else {
          const col = [COLORS.ramsys, COLORS.upm, COLORS.dust, COLORS.rm3, COLORS.puma][i - 5];
          mark = <line x1={c.legX0} x2={c.legX1} y1={ly} y2={ly} stroke={col} strokeWidth={1.8} />;
        }
        return (
          <g key={'lg' + i}>
            {mark}
            <text x={c.legTextX} y={ly} dy="0.36em" fontFamily={SANS} fontWeight="bold" fontSize={14} fill="#111">{name}</text>
          </g>
        );
      })}

      {c.note && NOTE_LINES.map((t, i) => (
        <text key={'n' + i} x={104} y={374 + i * 25} fontFamily={SANS} fontSize={21.5} textLength={NOTE_WIDTHS[i]} lengthAdjust="spacingAndGlyphs" fill="#111">{t}</text>
      ))}
    </g>
  );
}

export default function App() {
  return (
    <svg width={1274} height={902} viewBox="0 0 1274 902" style={{ position: 'absolute', left: 0, top: 0, background: '#fff', display: 'block' }}>
      <rect x={0} y={0} width={1274} height={902} fill="#fff" />
      <line x1={8} x2={1274} y1={6} y2={6} stroke="#e4e4e4" strokeWidth={1.2} />
      <line x1={654} x2={654} y1={0} y2={902} stroke="#e8e8e8" strokeWidth={1.2} />
      {PANELS.map((p) => <Panel key={p.id} c={p} />)}
    </svg>
  );
}
